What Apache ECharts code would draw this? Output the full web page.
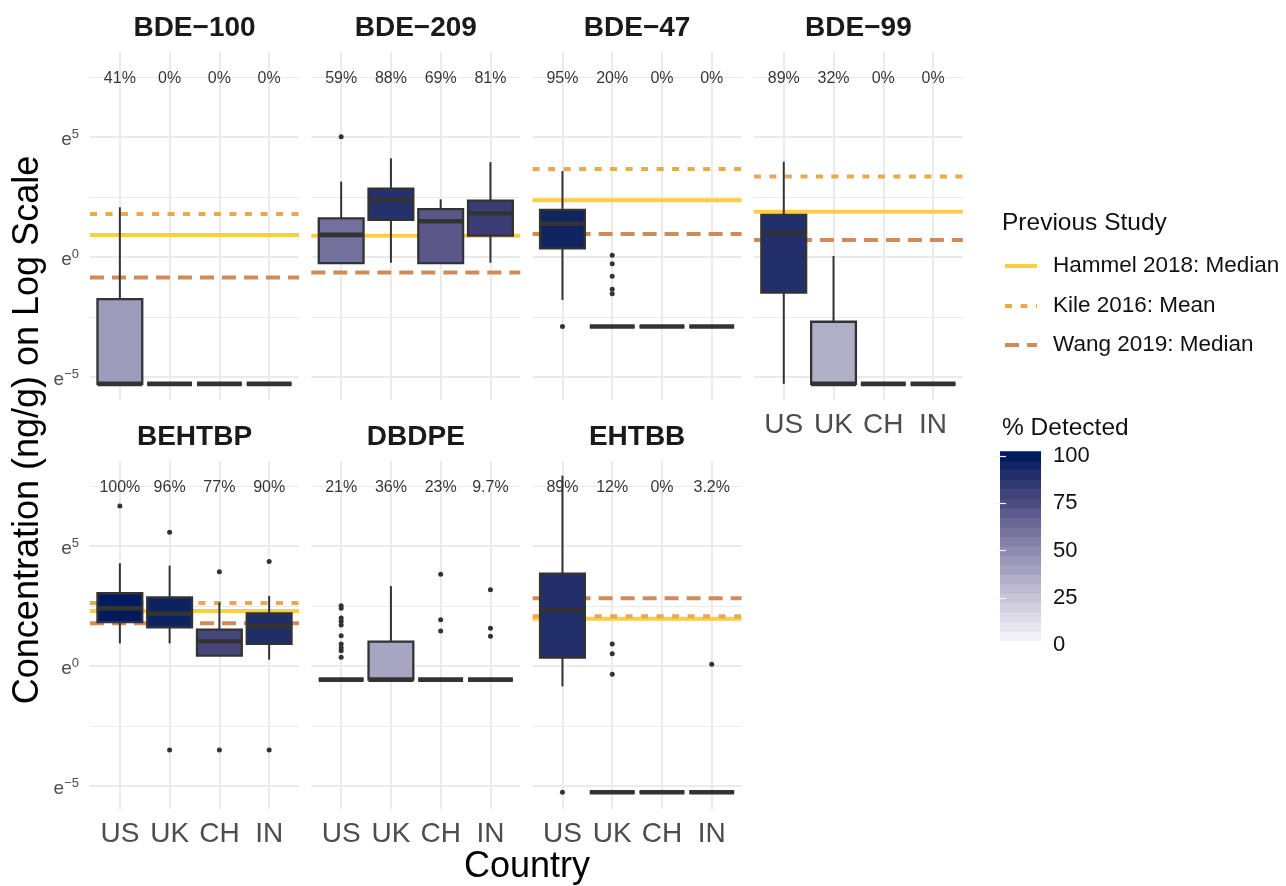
<!DOCTYPE html>
<html>
<head>
<meta charset="utf-8">
<script src="https://cdn.jsdelivr.net/npm/echarts@6/dist/echarts.min.js"></script>
<style>
  html, body { margin: 0; padding: 0; background: #fff; }
  #chart { width: 1286px; height: 886px; }
</style>
</head>
<body>
<div id="chart"></div>
<script>
const countries = ['US', 'UK', 'CH', 'IN'];
const chemicals = ['BDE−100', 'BDE−209', 'BDE−47', 'BDE−99', 'BEHTBP', 'DBDPE', 'EHTBB'];

// % detected, country order
const detected = [
  [41, 0, 0, 0],
  [59, 88, 69, 81],
  [95, 20, 0, 0],
  [89, 32, 0, 0],
  [100, 96, 77, 90],
  [21, 36, 23, 9.7],
  [89, 12, 0, 3.2]
];

// box summaries in ln(ng/g): [low, q1, median, q3, high]
const bde100 = [[-5.29, -5.29, -5.29, -1.76, 2.07], [-5.29, -5.29, -5.29, -5.29, -5.29], [-5.29, -5.29, -5.29, -5.29, -5.29], [-5.29, -5.29, -5.29, -5.29, -5.29]];
const bde209 = [[-0.26, -0.26, 0.92, 1.61, 3.14], [-0.24, 1.55, 2.36, 2.85, 4.11], [-0.26, -0.26, 1.49, 1.99, 2.40], [-0.24, 0.89, 1.82, 2.35, 3.95]];
const bde47 = [[-1.79, 0.36, 1.39, 1.96, 3.58], [-2.90, -2.90, -2.90, -2.90, -2.90], [-2.90, -2.90, -2.90, -2.90, -2.90], [-2.90, -2.90, -2.90, -2.90, -2.90]];
const bde99 = [[-5.29, -1.49, 0.99, 1.75, 3.97], [-5.29, -5.29, -5.29, -2.70, 0.04], [-5.29, -5.29, -5.29, -5.29, -5.29], [-5.29, -5.29, -5.29, -5.29, -5.29]];
const behtbp = [[0.94, 1.83, 2.40, 3.03, 4.28], [0.94, 1.61, 2.18, 2.86, 4.18], [0.43, 0.43, 1.03, 1.51, 2.65], [0.26, 0.92, 1.65, 2.19, 2.92]];
const dbdpe = [[-0.57, -0.57, -0.57, -0.57, -0.57], [-0.57, -0.57, -0.57, 1.01, 3.33], [-0.57, -0.57, -0.57, -0.57, -0.57], [-0.57, -0.57, -0.57, -0.57, -0.57]];
const ehtbb = [[-0.85, 0.35, 2.33, 3.85, 7.93], [-5.26, -5.26, -5.26, -5.26, -5.26], [-5.26, -5.26, -5.26, -5.26, -5.26], [-5.26, -5.26, -5.26, -5.26, -5.26]];
const boxes = [bde100, bde209, bde47, bde99, behtbp, dbdpe, ehtbb];

// outliers: [country index, ln(ng/g)]
const bde100Out = [];
const bde209Out = [[0, 5.01]];
const bde47Out = [[0, -2.90], [1, 0.07], [1, -0.28], [1, -0.80], [1, -1.35], [1, -1.53]];
const bde99Out = [];
const behtbpOut = [[0, 6.67], [1, 5.57], [1, -3.50], [2, 3.93], [2, -3.50], [3, 4.35], [3, -3.50]];
const dbdpeOut = [[0, 2.51], [0, 2.40], [0, 2.00], [0, 1.86], [0, 1.71], [0, 1.26], [0, 0.92], [0, 0.76], [0, 0.63], [0, 0.36],
  [2, 3.82], [2, 1.93], [2, 1.46], [3, 3.18], [3, 1.57], [3, 1.24]];
const ehtbbOut = [[0, -5.26], [1, 0.92], [1, 0.51], [1, -0.35], [3, 0.07]];
const outliers = [bde100Out, bde209Out, bde47Out, bde99Out, behtbpOut, dbdpeOut, ehtbbOut];

// previous studies, ln(ng/g); null = none
const hammel = [0.92, 0.88, 2.36, 1.88, 2.29, null, 1.97];
const kile = [1.79, null, 3.67, 3.35, 2.62, null, 2.07];
const wang = [-0.86, -0.65, 0.96, 0.71, 1.78, null, 2.82];

const yTicks = [-5, 0, 5];
const yMinor = [-2.5, 2.5, 7.5];
const legendTicks = [0, 25, 50, 75, 100];

const font = '"Liberation Sans", Arial, sans-serif';
const fillStops = ['#F2F1F7', '#C0BDD3', '#8A86AD', '#4C4A7D', '#011A5C'];
function fillFor(p) {
  return echarts.color.lerp(p / 100, fillStops);
}

const studies = [
  { name: 'Hammel 2018: Median', vals: hammel, color: '#FFCC45', dash: 'solid' },
  { name: 'Kile 2016: Mean', vals: kile, color: '#E8A94F', dash: [7, 8.5] },
  { name: 'Wang 2019: Median', vals: wang, color: '#D18B5A', dash: [14, 8] }
];

const panelW = 209, panelH = 348, colStep = 221.3;
const rowTop = [52, 461];
const yMin = -5.96, yMax = 8.54;
const stroke = '#333333';

const grid = [], xAxis = [], yAxis = [], series = [], graphic = [];

chemicals.forEach((chem, k) => {
  const col = k % 4, row = Math.floor(k / 4);
  const left = 90 + col * colStep;
  grid.push({ left: left, top: rowTop[row], width: panelW, height: panelH, containLabel: false, outerBoundsMode: 'none' });
  xAxis.push({
    type: 'value', gridIndex: k, min: -0.6, max: 3.6,
    axisLine: { show: false },
    axisTick: { show: false, customValues: [0, 1, 2, 3] },
    splitLine: { show: true, lineStyle: { color: '#EBEBEB', width: 2 } },
    axisLabel: {
      show: row === 1 || k === 3, customValues: [0, 1, 2, 3],
      formatter: v => countries[v], fontSize: 28, color: '#4D4D4D', fontFamily: font, margin: 11
    }
  });
  yAxis.push({
    type: 'value', gridIndex: k, min: yMin, max: yMax,
    axisLine: { show: false },
    axisTick: { show: false, customValues: yTicks },
    splitLine: { show: true, lineStyle: { color: '#EBEBEB', width: 2 } },
    axisLabel: {
      show: col === 0, customValues: yTicks, margin: 11,
      formatter: v => '{e|e}{s|' + (v < 0 ? '−' : '') + Math.abs(v) + '}',
      rich: {
        e: { fontSize: 19, lineHeight: 19, color: '#4D4D4D', fontFamily: font, padding: [6, 0, 0, 0] },
        s: { fontSize: 13, lineHeight: 13, color: '#4D4D4D', fontFamily: font, padding: [3, 0, 9, 0] }
      }
    }
  });
  yAxis.push({
    type: 'value', gridIndex: k, min: yMin, max: yMax,
    axisLine: { show: false },
    axisTick: { show: false, customValues: yMinor },
    splitLine: { show: true, lineStyle: { color: '#EBEBEB', width: 1 } },
    axisLabel: { show: false }
  });

  // reference lines from earlier studies
  studies.forEach(s => {
    const v = s.vals[k];
    if (v === null) return;
    series.push({
      type: 'line', xAxisIndex: k, yAxisIndex: 2 * k, silent: true, z: 1,
      data: [[-0.6, v], [3.6, v]], symbol: 'none',
      lineStyle: { color: s.color, width: 4, type: s.dash, cap: 'butt' }
    });
  });

  // % detected labels
  series.push({
    type: 'scatter', xAxisIndex: k, yAxisIndex: 2 * k, silent: true, z: 2,
    data: detected[k].map((p, i) => [i, 7.5, p]),
    symbolSize: 1, itemStyle: { color: 'rgba(0,0,0,0)' },
    label: {
      show: true, position: 'inside', offset: [0, 2],
      formatter: d => d.value[2] + '%', fontSize: 16, color: '#000', fontFamily: font
    }
  });

  // boxes
  series.push({
    type: 'custom', xAxisIndex: k, yAxisIndex: 2 * k, silent: true, z: 3,
    data: boxes[k].map((b, i) => [i].concat(b, [detected[k][i]])),
    encode: { x: 0, y: [1, 2, 3, 4, 5] },
    renderItem: (params, api) => {
      const i = api.value(0);
      const low = api.coord([i, api.value(1)]);
      const q1 = api.coord([i, api.value(2)]);
      const med = api.coord([i, api.value(3)]);
      const q3 = api.coord([i, api.value(4)]);
      const high = api.coord([i, api.value(5)]);
      const half = api.size([0.9, 0])[0] / 2;
      const x = low[0];
      return {
        type: 'group',
        children: [
          { type: 'line', shape: { x1: x, y1: low[1], x2: x, y2: q1[1] }, style: { stroke: stroke, lineWidth: 2 } },
          { type: 'line', shape: { x1: x, y1: q3[1], x2: x, y2: high[1] }, style: { stroke: stroke, lineWidth: 2 } },
          { type: 'rect', shape: { x: x - half, y: q3[1], width: 2 * half, height: q1[1] - q3[1] },
            style: { fill: fillFor(api.value(6)), stroke: stroke, lineWidth: 2.3 } },
          { type: 'line', shape: { x1: x - half, y1: med[1], x2: x + half, y2: med[1] }, style: { stroke: stroke, lineWidth: 4.6 } }
        ]
      };
    }
  });

  series.push({
    type: 'scatter', xAxisIndex: k, yAxisIndex: 2 * k, silent: true, z: 4,
    data: outliers[k], symbolSize: 5, itemStyle: { color: stroke, opacity: 1 }
  });

  graphic.push({
    type: 'text', x: left + panelW / 2, y: rowTop[row] - 24,
    style: { text: chem, font: 'bold 28px ' + font, fill: '#1A1A1A', align: 'center', verticalAlign: 'middle', textAlign: 'center', textVerticalAlign: 'middle' }
  });
});

// colour bar legend
const cb = chemicals.length;
const bins = [];
for (let j = 0; j < 20; j++) bins.push([2.5 + 5 * j, 7.5 + 5 * j, j * 100 / 19]);
grid.push({ left: 1000, top: 451.3, width: 41, height: 194.1, containLabel: false, outerBoundsMode: 'none' });
xAxis.push({ type: 'value', gridIndex: cb, min: 0, max: 1, show: false });
yAxis.push({
  type: 'value', gridIndex: cb, min: 0, max: 102.5, position: 'right', z: 5,
  axisLine: { show: false }, splitLine: { show: false },
  axisTick: { show: true, inside: true, length: 6, customValues: [25, 50, 75, 100], lineStyle: { color: '#F4F4F4', width: 1.2 } },
  axisLabel: { customValues: legendTicks, fontSize: 22, color: '#111', margin: 12, fontFamily: font }
});
yAxis.push({
  type: 'value', gridIndex: cb, min: 0, max: 102.5, position: 'left', z: 5,
  axisLine: { show: false }, splitLine: { show: false },
  axisTick: { show: true, inside: true, length: 6, customValues: [25, 50, 75, 100], lineStyle: { color: '#F4F4F4', width: 1.2 } },
  axisLabel: { show: false }
});
series.push({
  type: 'custom', xAxisIndex: cb, yAxisIndex: 2 * cb, silent: true, z: 2,
  data: bins,
  renderItem: (params, api) => {
    const top = api.coord([0, api.value(1)]);
    const bot = api.coord([1, api.value(0)]);
    return { type: 'rect', shape: { x: top[0], y: top[1], width: bot[0] - top[0], height: bot[1] - top[1] + 0.5 }, style: { fill: fillFor(api.value(2)) } };
  }
});

// axis titles
graphic.push({
  type: 'text', x: 28, y: 430, rotation: Math.PI / 2,
  style: { text: 'Concentration (ng/g) on Log Scale', font: '36px ' + font, fill: '#000', align: 'center', verticalAlign: 'middle', textAlign: 'center', textVerticalAlign: 'middle' }
});
graphic.push({
  type: 'text', x: 527, y: 867,
  style: { text: 'Country', font: '36px ' + font, fill: '#000', align: 'center', verticalAlign: 'middle', textAlign: 'center', textVerticalAlign: 'middle' }
});

// previous study legend
graphic.push({
  type: 'text', x: 1002, y: 223,
  style: { text: 'Previous Study', font: '24.5px ' + font, fill: '#111', align: 'left', verticalAlign: 'middle', textAlign: 'left', textVerticalAlign: 'middle' }
});
const legendY = [266, 306, 345];
studies.forEach((s, i) => {
  graphic.push({
    type: 'line', shape: { x1: 1005, y1: legendY[i], x2: 1037, y2: legendY[i] },
    style: { stroke: s.color, lineWidth: 4, lineDash: s.dash === 'solid' ? null : s.dash }
  });
  graphic.push({
    type: 'text', x: 1053, y: legendY[i],
    style: { text: s.name, font: '22.5px ' + font, fill: '#111', align: 'left', verticalAlign: 'middle', textAlign: 'left', textVerticalAlign: 'middle' }
  });
});
graphic.push({
  type: 'text', x: 1002, y: 428,
  style: { text: '% Detected', font: '24.5px ' + font, fill: '#111', align: 'left', verticalAlign: 'middle', textAlign: 'left', textVerticalAlign: 'middle' }
});

const chart = echarts.init(document.getElementById('chart'));
chart.setOption({
  backgroundColor: '#fff',
  animation: false,
  grid: grid,
  xAxis: xAxis,
  yAxis: yAxis,
  series: series,
  graphic: graphic
});
</script>
</body>
</html>
